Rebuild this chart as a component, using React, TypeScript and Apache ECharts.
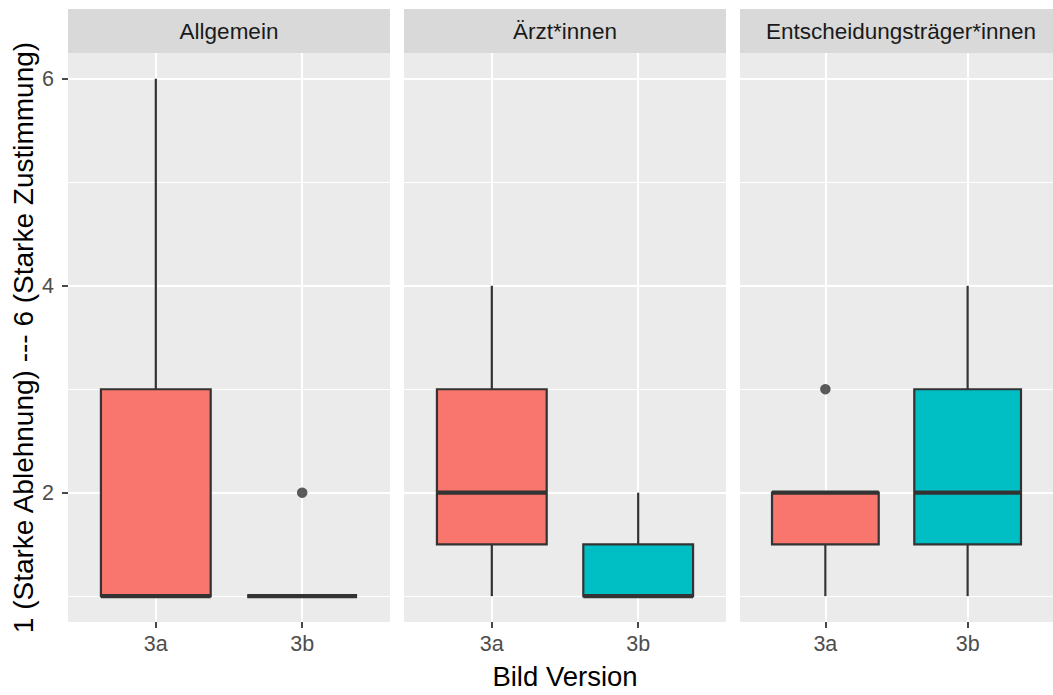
import React, { useEffect, useRef } from "react";
import * as echarts from "echarts";

// ---- data ----
const facets = ["Allgemein", "Ärzt*innen", "Entscheidungsträger*innen"];
const versions = ["3a", "3b"];
const yTicks = [2, 4, 6];
const yMinor = [1, 3, 5];
// [min, q1, median, q3, max] per version (3a, 3b)
const boxAllgemein = [
  [1, 1, 1, 3, 6],
  [1, 1, 1, 1, 1],
];
const boxAerzt = [
  [1, 1.5, 2, 3, 4],
  [1, 1, 1, 1.5, 2],
];
const boxEntscheid = [
  [1, 1.5, 2, 2, 2],
  [1, 1.5, 2, 3, 4],
];
// outliers: [version index (1-based), value]
const outAllgemein = [[2, 2]];
const outAerzt: number[][] = [];
const outEntscheid = [[1, 3]];

const boxes = [boxAllgemein, boxAerzt, boxEntscheid];
const outliers = [outAllgemein, outAerzt, outEntscheid];
const fills = ["#F8766D", "#00BFC4"];

const FONT = "Liberation Sans, Arial, sans-serif";

export default function App() {
  const ref = useRef<HTMLDivElement>(null);
  useEffect(() => {
    if (!ref.current) return;
    const chart = echarts.init(ref.current, null, { renderer: "svg" });
    const lefts = [68, 404, 740];
    const W = 322;
    const top = 53;
    const H = 569;

    const grids = lefts.map((l) => ({
      left: l,
      top,
      width: W,
      height: H,
      show: true,
      backgroundColor: "#EBEBEB",
      borderWidth: 0,
    }));

    const xAxes: any[] = lefts.map((_, i) => ({
      type: "value",
      gridIndex: i,
      min: 0.4,
      max: 2.6,
      axisLine: { show: false },
      axisTick: {
        show: true,
        customValues: [1, 2],
        length: 6,
        lineStyle: { color: "#333333", width: 1.8 },
      },
      axisLabel: {
        customValues: [1, 2],
        formatter: (v: number) => versions[Math.round(v) - 1],
        color: "#4D4D4D",
        fontSize: 21.5,
        fontFamily: FONT,
        margin: 11,
      },
      splitLine: { show: true, lineStyle: { color: "#FFFFFF", width: 2 } },
      name: i === 1 ? "Bild Version" : "",
      nameLocation: "middle",
      nameGap: 40,
      nameTextStyle: { color: "#000000", fontSize: 27.5, fontFamily: FONT },
    }));

    const yAxes: any[] = [];
    lefts.forEach((_, i) => {
      yAxes.push({
        type: "value",
        gridIndex: i,
        min: 0.75,
        max: 6.25,
        axisLine: { show: false },
        axisTick: {
          show: i === 0,
          customValues: yTicks,
          length: 6,
          lineStyle: { color: "#333333", width: 1.8 },
        },
        axisLabel: {
          show: i === 0,
          customValues: yTicks,
          color: "#4D4D4D",
          fontSize: 21.5,
          fontFamily: FONT,
          margin: 14,
        },
        splitLine: { show: true, lineStyle: { color: "#FFFFFF", width: 2 } },
        name: i === 0 ? "1 (Starke Ablehnung) --- 6 (Starke Zustimmung)" : "",
        nameLocation: "middle",
        nameGap: 31,
        nameRotate: 90,
        nameTextStyle: { color: "#000000", fontSize: 28, fontFamily: FONT },
        z: 1,
      });
    });
    lefts.forEach((_, i) => {
      yAxes.push({
        type: "value",
        gridIndex: i,
        min: 0.75,
        max: 6.25,
        axisLine: { show: false },
        axisTick: { show: false, customValues: yMinor },
        axisLabel: { show: false, customValues: yMinor },
        splitLine: { show: true, lineStyle: { color: "#FFFFFF", width: 1.2 } },
        z: 0,
      });
    });

    const series: any[] = [];
    boxes.forEach((b, i) => {
      series.push({
        type: "custom",
        xAxisIndex: i,
        yAxisIndex: i,
        data: b.map((s, k) => [k + 1, ...s]),
        encode: { x: 0, y: [1, 2, 3, 4, 5] },
        z: 5,
        renderItem: (params: any, api: any) => {
          const x = api.value(0);
          const idx = params.dataIndex;
          const pMin = api.coord([x, api.value(1)]);
          const pQ1 = api.coord([x, api.value(2)]);
          const pMed = api.coord([x, api.value(3)]);
          const pQ3 = api.coord([x, api.value(4)]);
          const pMax = api.coord([x, api.value(5)]);
          const half = api.size([0.75, 0])[0] / 2;
          const stroke = "#333333";
          const lw = 2.2;
          return {
            type: "group",
            children: [
              {
                type: "line",
                shape: { x1: pQ3[0], y1: pQ3[1], x2: pMax[0], y2: pMax[1] },
                style: { stroke, lineWidth: lw },
              },
              {
                type: "line",
                shape: { x1: pMin[0], y1: pMin[1], x2: pQ1[0], y2: pQ1[1] },
                style: { stroke, lineWidth: lw },
              },
              {
                type: "rect",
                shape: {
                  x: pQ3[0] - half,
                  y: pQ3[1],
                  width: half * 2,
                  height: pQ1[1] - pQ3[1],
                },
                style: { fill: fills[idx], stroke, lineWidth: lw },
              },
              {
                type: "line",
                shape: {
                  x1: pMed[0] - half,
                  y1: pMed[1],
                  x2: pMed[0] + half,
                  y2: pMed[1],
                },
                style: { stroke, lineWidth: 4.2, lineCap: "butt" },
              },
            ],
          };
        },
      });
      series.push({
        type: "scatter",
        xAxisIndex: i,
        yAxisIndex: i,
        data: outliers[i],
        symbol: "circle",
        symbolSize: 10.5,
        itemStyle: { color: "#333333" },
        z: 6,
      });
    });

    const graphic: any[] = [];
    lefts.forEach((l, i) => {
      graphic.push({
        type: "rect",
        shape: { x: l, y: 9, width: W, height: top - 9 },
        style: { fill: "#D9D9D9" },
        silent: true,
      });
      graphic.push({
        type: "text",
        x: l + W / 2,
        y: 9 + (top - 9) / 2,
        style: {
          text: facets[i],
          fill: "#1A1A1A",
          font: `22.5px ${FONT}`,
          align: "center",
          verticalAlign: "middle",
        },
        silent: true,
      });
    });

    chart.setOption({
      animation: false,
      backgroundColor: "#FFFFFF",
      grid: grids,
      xAxis: xAxes,
      yAxis: yAxes,
      series,
      graphic,
    });
    return () => chart.dispose();
  }, []);
  return (
    <div
      ref={ref}
      style={{ position: "absolute", left: 0, top: 0, width: 1053, height: 695 }}
    />
  );
}
